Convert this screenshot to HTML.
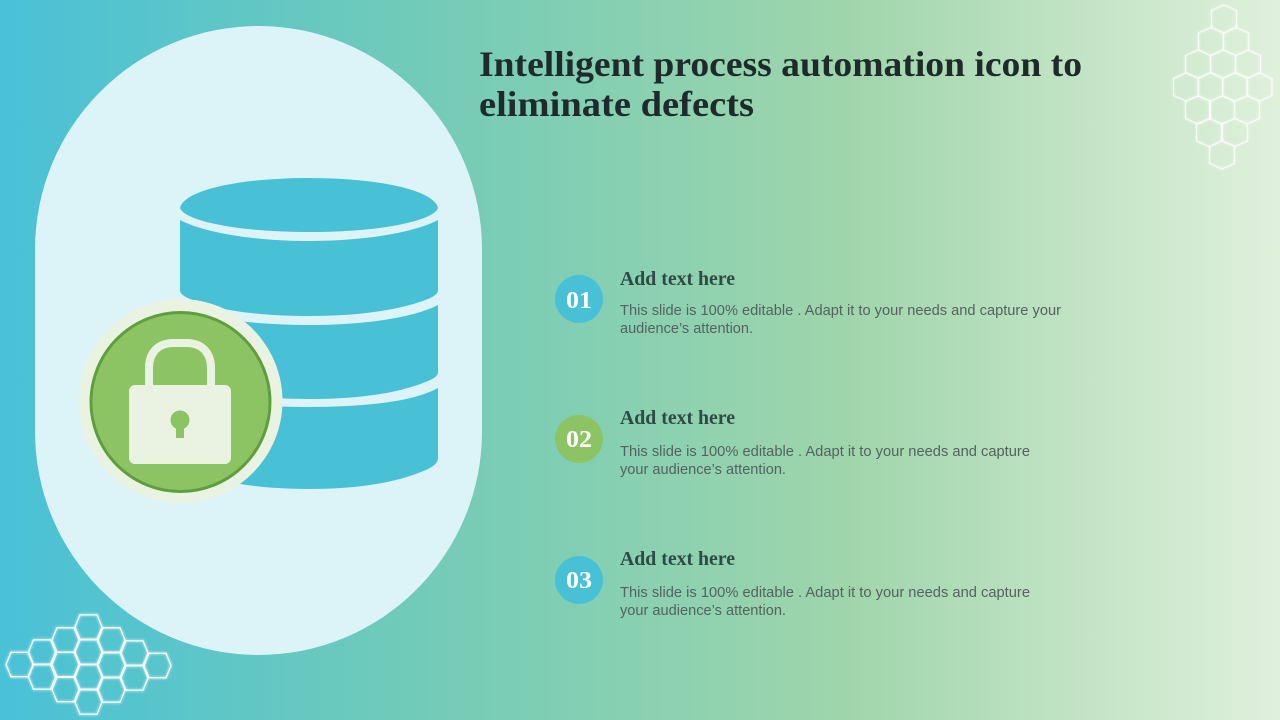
<!DOCTYPE html>
<html><head><meta charset="utf-8"><style>
html,body{margin:0;padding:0;width:1280px;height:720px;overflow:hidden}
svg{display:block}
.h{font-family:"Liberation Serif",serif;font-weight:bold;font-size:36px;fill:#1f2a2a}
.s{font-family:"Liberation Serif",serif;font-weight:bold;font-size:19.5px;fill:#2f4a44}
.b{font-family:"Liberation Sans",sans-serif;font-size:14.5px;fill:#55625f}
.n{font-family:"Liberation Serif",serif;font-weight:bold;font-size:24.5px;fill:#fff}
</style></head><body>
<svg width="1280" height="720" viewBox="0 0 1280 720" xmlns="http://www.w3.org/2000/svg">
<defs>
<linearGradient id="bg" x1="0" x2="1" y1="0" y2="0">
<stop offset="0" stop-color="#49c1d7"/><stop offset=".33" stop-color="#72cbb8"/><stop offset=".66" stop-color="#9fd5ab"/><stop offset="1" stop-color="#e0f0dc"/>
</linearGradient>
<filter id="gl" x="-10%" y="-10%" width="120%" height="120%"><feGaussianBlur stdDeviation="1.2"/></filter>
<polygon id="p" points="0,-14 12.5,-8.5 12.5,8.5 0,14 -12.5,8.5 -12.5,-8.5"/>
<polygon id="f" points="-13.5,0 -8.500,-12.2 8.500,-12.2 13.5,0 8.500,12.2 -8.500,12.2"/>
<g id="tr" fill="none">
<use href="#p" x="1224" y="19"/><use href="#p" x="1211" y="41.5"/><use href="#p" x="1236" y="41.5"/>
<use href="#p" x="1198" y="64"/><use href="#p" x="1223" y="64"/><use href="#p" x="1248" y="64"/>
<use href="#p" x="1186" y="87"/><use href="#p" x="1210.5" y="87"/><use href="#p" x="1235" y="87"/><use href="#p" x="1259.5" y="87"/>
<use href="#p" x="1198" y="110"/><use href="#p" x="1222" y="110"/><use href="#p" x="1247" y="110"/>
<use href="#p" x="1209" y="132.500"/><use href="#p" x="1235" y="132.500"/><use href="#p" x="1222" y="155"/>
</g>
<g id="bl" fill="none">
<use href="#f" x="19.500" y="664.500"/>
<use href="#f" x="42" y="652"/><use href="#f" x="42" y="677"/>
<use href="#f" x="65.500" y="640"/><use href="#f" x="65.500" y="664.500"/><use href="#f" x="65.500" y="689.500"/>
<use href="#f" x="88.500" y="627"/><use href="#f" x="88.500" y="652"/><use href="#f" x="88.500" y="677"/><use href="#f" x="88.500" y="702"/>
<use href="#f" x="111.500" y="640"/><use href="#f" x="111.500" y="665"/><use href="#f" x="111.500" y="690"/>
<use href="#f" x="134.500" y="653"/><use href="#f" x="134.500" y="678"/>
<use href="#f" x="157.500" y="665.500"/>
</g>
</defs>
<rect width="1280" height="720" fill="url(#bg)"/>

<use href="#tr" stroke="#fff" stroke-width="2" opacity=".45" filter="url(#gl)"/>
<use href="#tr" stroke="#fff" stroke-width="1.2" opacity=".75"/>
<use href="#bl" stroke="#fff" stroke-width="2.5" opacity=".5" filter="url(#gl)"/>
<use href="#bl" stroke="#fff" stroke-width="1.3" opacity=".95"/>

<rect x="35" y="26" width="447" height="629" rx="223.5" ry="223.5" fill="#dcf3f8"/>

<g fill="#48c1d7">
<path d="M180 208C184 190 240 178 309 178C378 178 434 190 438 208C434 220 385 232 309 232C233 232 184 220 180 208Z"/>
<path d="M180 220C205 233 255 241 309 241C363 241 413 233 438 220V290Q438 295 428 299C400 310 360 316 309 316C258 316 215 310 190 299Q180 295 180 290Z"/>
<path d="M180 310C205 318 255 325 309 325C363 325 413 318 438 305V372Q438 377 428 381C400 393 360 399 309 399C258 399 215 393 190 381Q180 377 180 372Z"/>
<path d="M180 392C205 402 255 407 309 407C363 407 413 402 438 388V458Q438 464 428 469C400 482 360 489 309 489C258 489 215 482 190 469Q180 464 180 458Z"/>
</g>

<circle cx="180.500" cy="401" r="102" fill="#eaf3e1"/>
<circle cx="180.500" cy="402" r="89.500" fill="#8cc463" stroke="#5f9e3f" stroke-width="3"/>
<path d="M149 388V368C149 352 159 343 173 343H187C201 343 211 352 211 368V388" fill="none" stroke="#eaf3e1" stroke-width="8"/>
<rect x="129" y="385" width="102" height="79" rx="6" fill="#eaf3e1"/>
<circle cx="180" cy="420" r="9.500" fill="#8cc463"/>
<rect x="176" y="424" width="8" height="14" fill="#8cc463"/>

<text class="h" x="479" y="76" textLength="603" lengthAdjust="spacingAndGlyphs">Intelligent process automation icon to</text>
<text class="h" x="479" y="116" textLength="275" lengthAdjust="spacingAndGlyphs">eliminate defects</text>

<circle cx="579" cy="299" r="24" fill="#48c1d7"/>
<text class="n" x="566" y="308" textLength="26" lengthAdjust="spacingAndGlyphs">01</text>
<text class="s" x="620" y="285" textLength="115" lengthAdjust="spacingAndGlyphs">Add text here</text>
<text class="b" x="620" y="315" textLength="441" lengthAdjust="spacingAndGlyphs">This slide is 100% editable . Adapt it to your needs and capture your</text>
<text class="b" x="620" y="333" textLength="133" lengthAdjust="spacingAndGlyphs">audience’s attention.</text>

<circle cx="579" cy="439" r="24" fill="#8cc463"/>
<text class="n" x="566" y="447" textLength="26" lengthAdjust="spacingAndGlyphs">02</text>
<text class="s" x="620" y="424" textLength="115" lengthAdjust="spacingAndGlyphs">Add text here</text>
<text class="b" x="620" y="456" textLength="410" lengthAdjust="spacingAndGlyphs">This slide is 100% editable . Adapt it to your needs and capture</text>
<text class="b" x="620" y="474" textLength="166" lengthAdjust="spacingAndGlyphs">your audience’s attention.</text>

<circle cx="579" cy="580" r="24" fill="#48c1d7"/>
<text class="n" x="566" y="588" textLength="26" lengthAdjust="spacingAndGlyphs">03</text>
<text class="s" x="620" y="565" textLength="115" lengthAdjust="spacingAndGlyphs">Add text here</text>
<text class="b" x="620" y="597" textLength="410" lengthAdjust="spacingAndGlyphs">This slide is 100% editable . Adapt it to your needs and capture</text>
<text class="b" x="620" y="615" textLength="166" lengthAdjust="spacingAndGlyphs">your audience’s attention.</text>
</svg>
</body></html>
